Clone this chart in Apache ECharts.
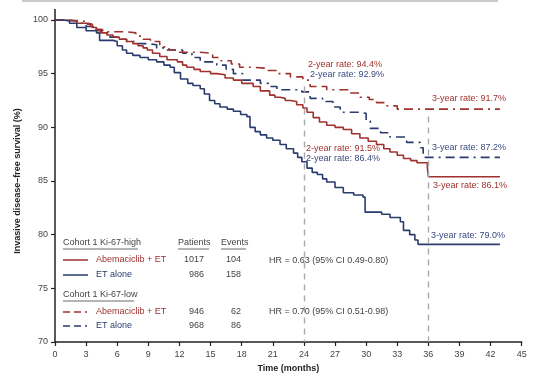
<!DOCTYPE html>
<html>
<head>
<meta charset="utf-8">
<script src="https://cdn.jsdelivr.net/npm/echarts@6/dist/echarts.min.js"></script>
<style>html,body{margin:0;padding:0;background:#fff}#c{width:553px;height:392px}</style>
</head>
<body>
<div id="c"></div>
<script>
// Kaplan-Meier curves (time in months, survival %)
const abemaHighT = [0, 1.2, 2.1, 3.2, 3.6, 4.0, 4.4, 5.0, 5.6, 6.2, 6.9, 7.5, 8.0, 8.5, 8.9, 9.4, 10.1, 10.8, 11.8, 12.3, 12.7, 13.4, 14.0, 15.0, 15.6, 16.4, 17.2, 18.0, 19.1, 19.8, 20.7, 21.2, 21.7, 22.2, 22.7, 23.3, 23.9, 24.3, 24.9, 25.5, 26.2, 27.0, 27.8, 28.6, 29.4, 30.2, 31.0, 31.7, 32.3, 33.0, 33.6, 34.3, 34.9, 35.9, 36.0, 42.9];
const abemaHighV = [100, 99.9, 99.7, 99.6, 99.3, 99.0, 98.8, 98.6, 98.4, 98.2, 98.0, 97.8, 97.6, 97.4, 97.2, 96.9, 96.6, 96.3, 96.1, 95.8, 95.6, 95.4, 95.2, 95.0, 94.9, 94.6, 94.4, 94.1, 93.8, 93.4, 93.0, 92.8, 92.7, 92.5, 92.4, 92.1, 91.8, 91.4, 90.9, 90.5, 90.2, 90.0, 89.8, 89.4, 89.0, 88.7, 88.4, 88.0, 87.7, 87.4, 87.1, 86.9, 86.7, 86.3, 85.4, 85.4];

const etHighT = [0, 0.8, 1.4, 2.1, 3.0, 4.0, 4.3, 5.6, 6.0, 6.5, 6.9, 7.5, 8.2, 9.0, 9.8, 10.5, 11.1, 11.5, 12.1, 12.8, 13.3, 14.0, 14.4, 14.9, 15.4, 15.9, 16.6, 17.2, 17.9, 18.5, 18.8, 19.3, 19.8, 20.4, 21.0, 21.7, 22.3, 23.0, 23.4, 23.8, 24.3, 24.8, 25.3, 25.8, 26.2, 27.0, 27.8, 28.8, 29.7, 29.9, 31.5, 32.3, 33.3, 33.6, 34.2, 34.7, 35.0, 42.9];
const etHighV = [100, 99.9, 99.7, 99.3, 99.0, 98.8, 98.1, 98.0, 97.6, 97.2, 96.9, 96.7, 96.5, 96.3, 96.1, 95.8, 95.6, 95.1, 94.5, 94.1, 93.9, 93.6, 93.1, 92.5, 92.2, 91.9, 91.7, 91.5, 91.2, 91.0, 90.0, 89.6, 89.3, 89.0, 88.8, 88.4, 88.0, 87.6, 87.2, 86.8, 86.2, 85.8, 85.6, 85.2, 84.9, 84.4, 83.9, 83.7, 83.5, 82.1, 81.9, 81.6, 81.2, 80.4, 80.0, 79.5, 79.1, 79.1];

const abemaLowT = [0, 1.0, 2.1, 2.8, 3.4, 4.0, 4.6, 6.9, 7.8, 8.5, 9.2, 10.1, 11.0, 11.8, 14.0, 15.2, 16.0, 17.0, 17.8, 19.0, 20.4, 21.4, 22.7, 23.9, 24.6, 26.2, 28.4, 29.4, 30.3, 31.0, 32.0, 33.0, 42.9];
const abemaLowV = [100, 99.95, 99.9, 99.6, 99.4, 99.1, 98.9, 98.8, 98.5, 98.2, 98.0, 97.5, 97.2, 97.0, 96.9, 96.5, 96.2, 95.9, 95.6, 95.5, 95.3, 95.0, 94.7, 94.4, 93.8, 93.5, 93.2, 92.8, 92.6, 92.3, 92.0, 91.7, 91.7];

const etLowT = [0, 1.0, 2.1, 3.0, 3.7, 4.5, 5.3, 6.0, 6.9, 8.0, 8.9, 9.8, 10.8, 12.3, 13.2, 14.0, 15.6, 16.5, 17.2, 18.1, 19.8, 20.6, 21.4, 22.7, 23.8, 24.6, 25.8, 26.8, 27.5, 29.4, 30.0, 30.4, 31.4, 32.3, 33.9, 35.2, 35.5, 42.9];
const etLowV = [100, 99.9, 99.7, 99.4, 99.1, 98.8, 98.4, 98.2, 98.0, 97.8, 97.7, 97.4, 97.2, 96.9, 96.5, 96.1, 95.8, 95.4, 95.0, 94.4, 94.1, 93.8, 93.5, 93.5, 93.3, 92.7, 92.4, 91.9, 91.4, 91.3, 90.6, 89.9, 89.5, 89.1, 88.6, 88.1, 87.2, 87.2];

const xTicks = [0, 3, 6, 9, 12, 15, 18, 21, 24, 27, 30, 33, 36, 39, 42, 45];
const yTicks = [70, 75, 80, 85, 90, 95, 100];

const rateLabels = [
  {text: '2-year rate: 94.4%', x: 308, y: 65, c: 'red'},
  {text: '2-year rate: 92.9%', x: 310, y: 75, c: 'blue'},
  {text: '3-year rate: 91.7%', x: 432, y: 99, c: 'red'},
  {text: '2-year rate: 91.5%', x: 306, y: 149, c: 'red'},
  {text: '2-year rate: 86.4%', x: 306, y: 159, c: 'blue'},
  {text: '3-year rate: 87.2%', x: 432, y: 148, c: 'blue'},
  {text: '3-year rate: 86.1%', x: 433, y: 186, c: 'red'},
  {text: '3-year rate: 79.0%', x: 431, y: 236, c: 'blue'}
];

const RED = '#A0322E', BLUE = '#2A3B6E', TXT = '#444', FONT = 'Liberation Sans, Arial, sans-serif';
const DASH = [9, 5, 9, 5, 2, 5];
const zip = (t, v) => t.map((x, i) => [x, v[i]]);

const chart = echarts.init(document.getElementById('c'), null, {renderer: 'canvas'});

const g = [];
g.push({type: 'line', shape: {x1: 22, y1: 1, x2: 498, y2: 1}, style: {stroke: '#bbb', lineWidth: 1.5}});
g.push({type: 'line', shape: {x1: 55, y1: 9, x2: 55, y2: 20}, style: {stroke: '#222', lineWidth: 1.5}});
rateLabels.forEach(l => g.push({type: 'text', x: l.x, y: l.y, style: {text: l.text, fill: l.c === 'red' ? RED : '#3A4A80', font: '9px ' + FONT, textVerticalAlign: 'middle'}}));

function t(text, x, y, opt) {
  opt = opt || {};
  g.push({type: 'text', x: x, y: y, style: {text: text, fill: opt.fill || TXT, font: (opt.bold ? 'bold ' : '') + '9px ' + FONT, textAlign: opt.align || 'left', textVerticalAlign: 'middle'}});
}
function u(x1, x2, y) { g.push({type: 'line', shape: {x1: x1, y1: y, x2: x2, y2: y}, style: {stroke: TXT, lineWidth: 0.8}}); }
function key(y, color, dashed) {
  g.push({type: 'line', shape: {x1: 63, y1: y, x2: 88, y2: y}, style: {stroke: color, lineWidth: 1.5, lineDash: dashed ? [7, 4, 7, 4, 2, 4] : null}});
}
t('Cohort 1 Ki-67-high', 63, 243); u(63, 138, 249);
t('Patients', 178, 243); u(178, 209, 249);
t('Events', 221, 243); u(221, 246, 249);
key(260, RED, false); t('Abemaciclib + ET', 96, 260, {fill: RED}); t('1017', 204, 260, {align: 'right'}); t('104', 241, 260, {align: 'right'});
t('HR = 0.63 (95% CI 0.49-0.80)', 269, 261);
key(275, BLUE, false); t('ET alone', 96, 275, {fill: BLUE}); t('986', 204, 275, {align: 'right'}); t('158', 241, 275, {align: 'right'});
t('Cohort 1 Ki-67-low', 63, 295); u(63, 134, 301);
key(312, RED, true); t('Abemaciclib + ET', 96, 312, {fill: RED}); t('946', 204, 312, {align: 'right'}); t('62', 241, 312, {align: 'right'});
t('HR = 0.70 (95% CI 0.51-0.98)', 269, 312);
key(326, BLUE, true); t('ET alone', 96, 326, {fill: BLUE}); t('968', 204, 326, {align: 'right'}); t('86', 241, 326, {align: 'right'});

const common = {type: 'line', step: 'end', symbol: 'none', silent: true, animation: false};

chart.setOption({
  animation: false,
  grid: {left: 55, right: 31.3, top: 20, bottom: 50},
  xAxis: {
    type: 'value', min: 0, max: 45, interval: 3,
    name: 'Time (months)', nameLocation: 'middle', nameGap: 21,
    nameTextStyle: {fontFamily: FONT, fontSize: 9, fontWeight: 'bold', color: '#222'},
    axisLine: {lineStyle: {color: '#222', width: 1.5}},
    axisTick: {length: 4, lineStyle: {color: '#222', width: 1.2}},
    axisLabel: {fontFamily: FONT, fontSize: 9, color: TXT, margin: 8, formatter: v => xTicks.includes(v) ? String(v) : ''},
    splitLine: {show: false}
  },
  yAxis: {
    type: 'value', min: 70, max: 100, interval: 5,
    name: 'Invasive disease\u2013free survival (%)', nameLocation: 'middle', nameGap: 25,
    nameTextStyle: {fontFamily: FONT, fontSize: 9, fontWeight: 'bold', color: '#222'},
    axisLine: {show: true, lineStyle: {color: '#222', width: 1.5}},
    axisTick: {show: true, length: 4, lineStyle: {color: '#222', width: 1.2}},
    axisLabel: {fontFamily: FONT, fontSize: 9, color: TXT, margin: 7, formatter: v => yTicks.includes(v) ? String(v) : ''},
    splitLine: {show: false}
  },
  series: [
    Object.assign({}, common, {name: 'ET alone low', data: zip(etLowT, etLowV), lineStyle: {color: BLUE, width: 1.6, type: DASH}, z: 3}),
    Object.assign({}, common, {name: 'Abema low', data: zip(abemaLowT, abemaLowV), lineStyle: {color: RED, width: 1.6, type: DASH}, z: 3,
      markLine: {silent: true, symbol: 'none', label: {show: false}, lineStyle: {color: '#aaa', width: 1.4, type: [6, 5]},
        data: [[{coord: [24, 93.8]}, {coord: [24, 70]}], [{coord: [36, 91.0]}, {coord: [36, 70]}]]}}),
    Object.assign({}, common, {name: 'Abema high', data: zip(abemaHighT, abemaHighV), lineStyle: {color: RED, width: 1.6}, z: 4}),
    Object.assign({}, common, {name: 'ET alone high', data: zip(etHighT, etHighV), lineStyle: {color: BLUE, width: 1.6}, z: 4})
  ],
  graphic: g
});
</script>
</body>
</html>
